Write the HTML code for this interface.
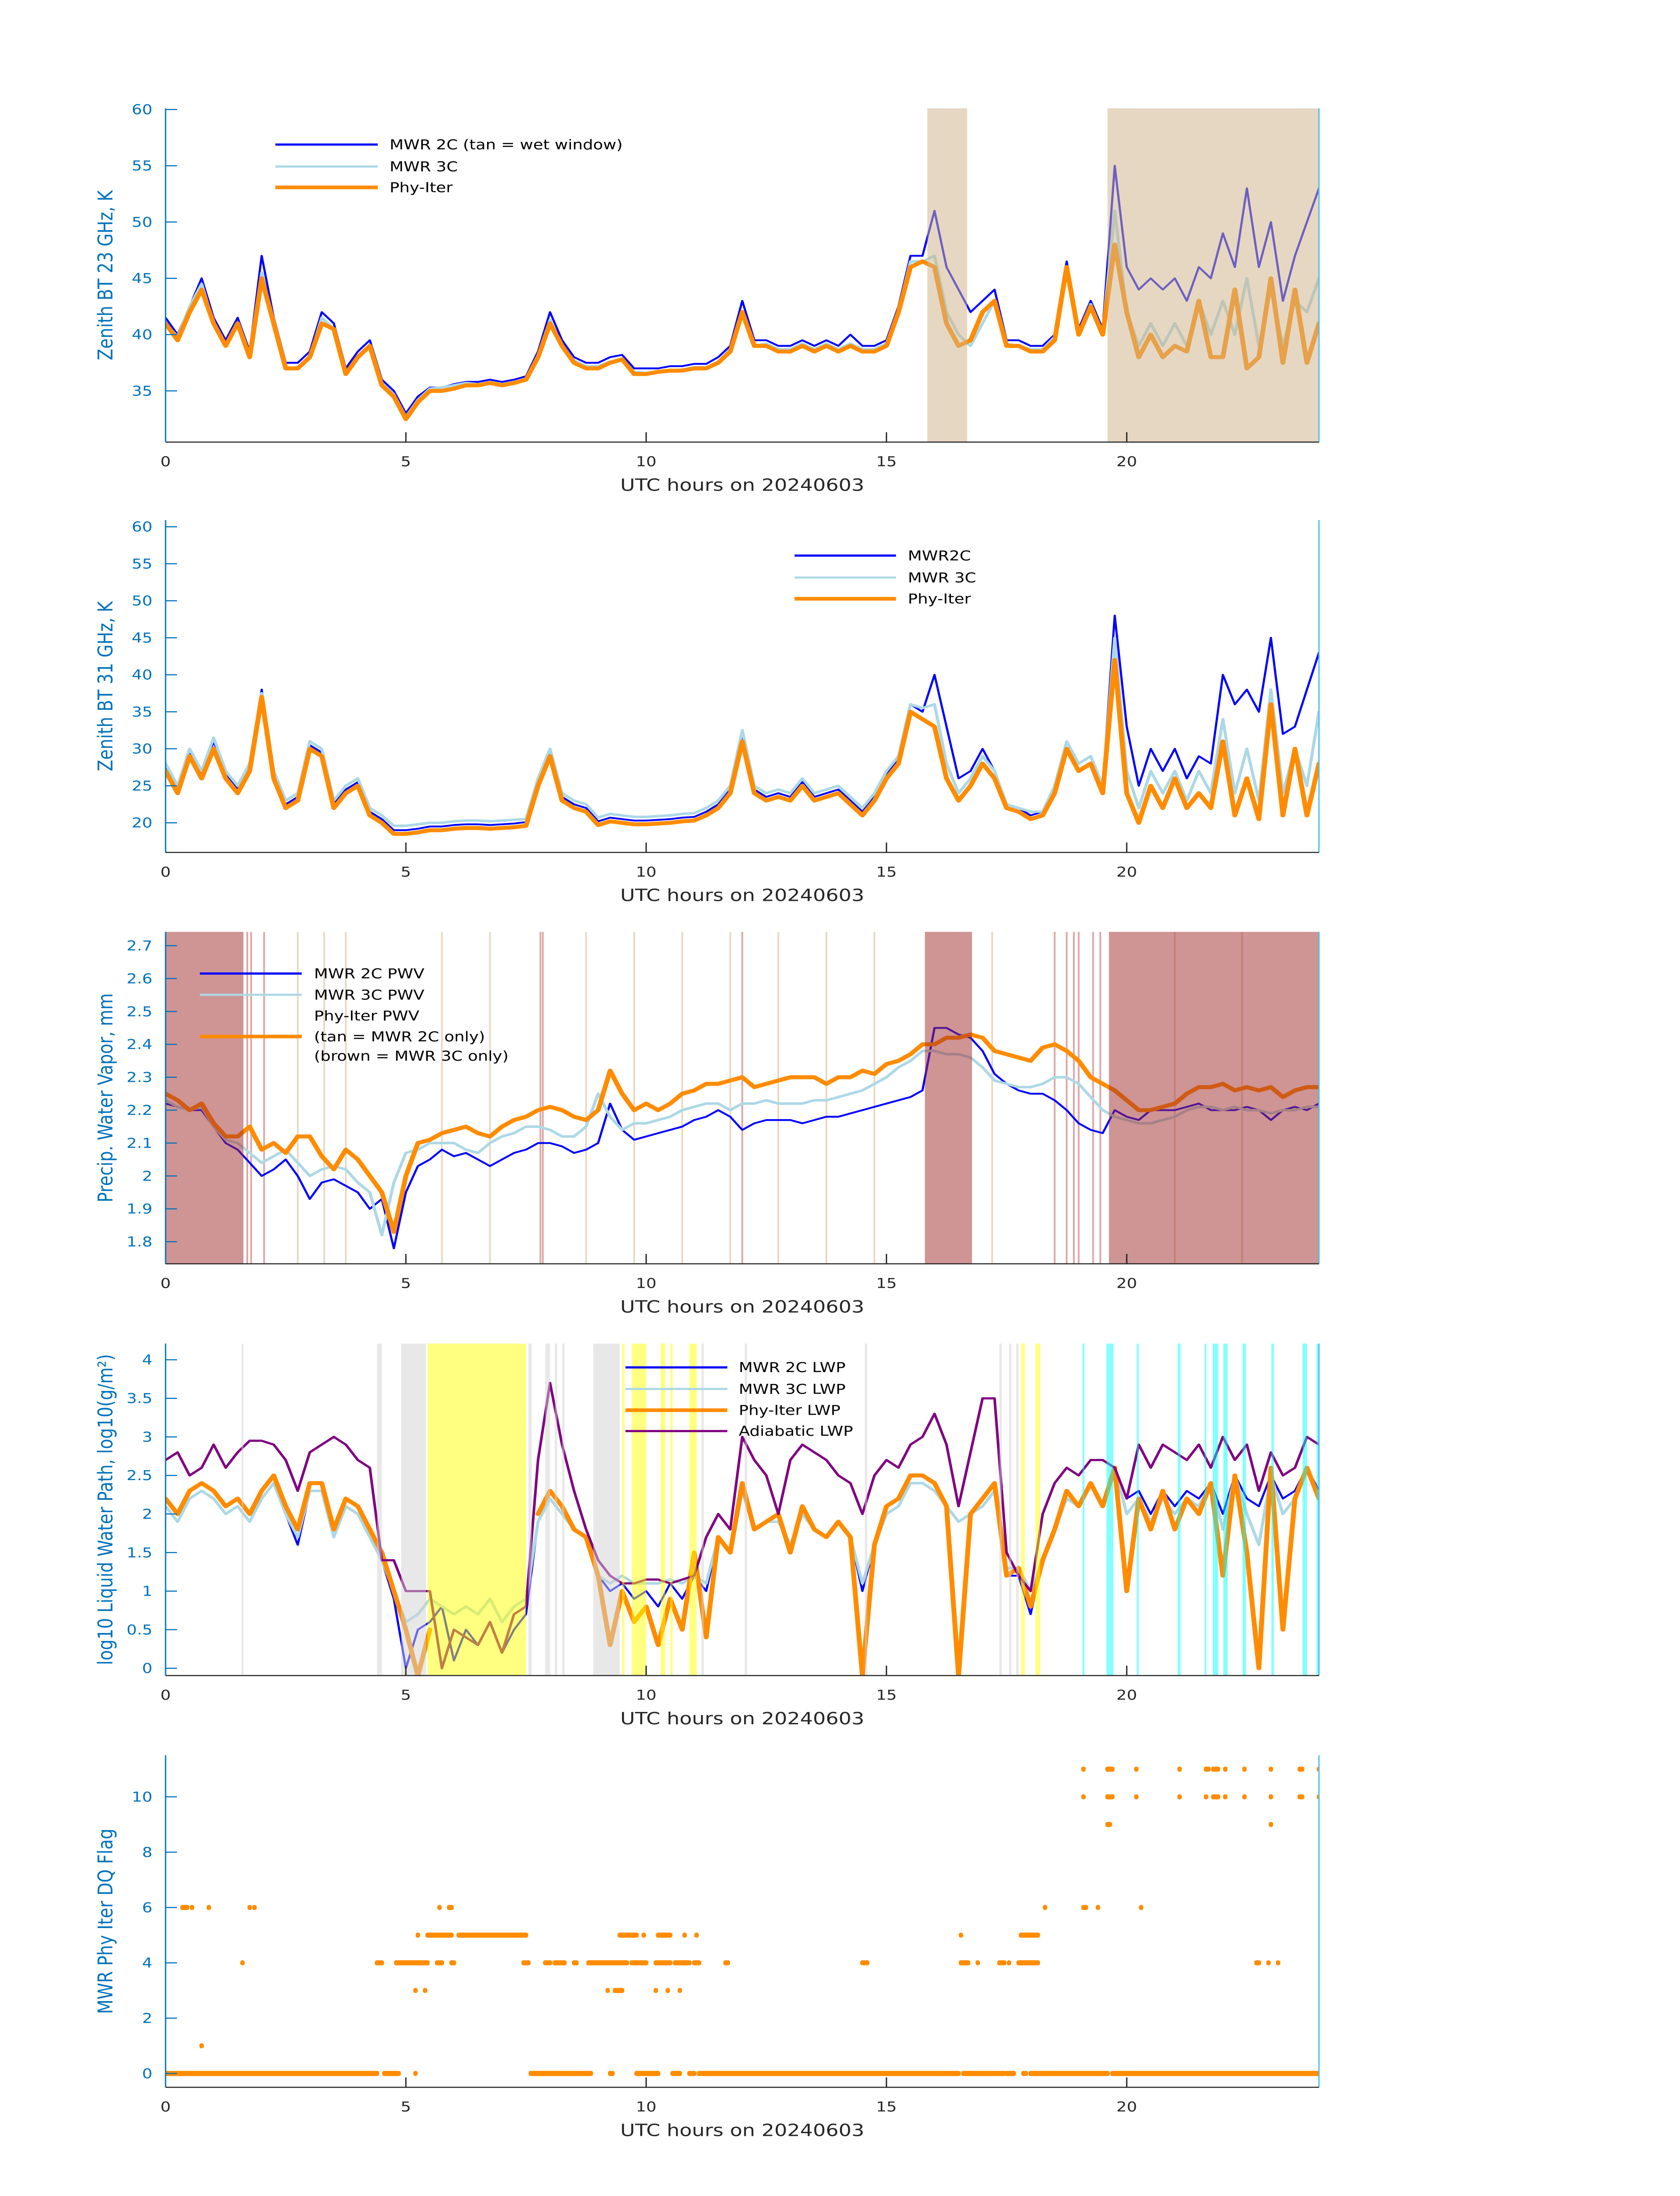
<!DOCTYPE html>
<html><head><meta charset="utf-8">
<style>
html,body{margin:0;padding:0;background:#fff;width:100vw;height:100vh;overflow:hidden;}
svg{display:block;position:absolute;left:0;top:0;width:100vw;height:100vh;overflow:hidden;}
text{font-family:"DejaVu Sans","Liberation Sans",sans-serif;}
</style></head>
<body>
<svg id="fig" viewBox="0 0 3825 6000" preserveAspectRatio="none" xmlns="http://www.w3.org/2000/svg"></svg>
<script>
// ---------- DATA (sampled every 0.25 h, 0..24) ----------
const p1Blue=[41.5,40,42.5,45,41.5,39.5,41.5,38.5,47,41.5,37.5,37.5,38.5,42,41,37,38.5,39.5,36,35,33,34.5,35.3,35.3,35.6,35.8,35.8,36,35.8,36,36.3,38.5,42,39.5,38,37.5,37.5,38,38.2,37,37,37,37.2,37.2,37.4,37.4,38,39,43,39.5,39.5,39,39,39.5,39,39.5,39,40,39,39,39.5,42.5,47,47,51,46,44,42,43,44,39.5,39.5,39,39,40,46.5,40.5,43,40.5,55,46,44,45,44,45,43,46,45,49,46,53,46,50,43,47,50,53];
const p1Light=[41,39.8,42.5,44.5,41,39,41,38,45.5,41,37,37,38,41.5,40.5,36.5,38,39,35.7,34.7,32.7,34.2,35.2,35.3,35.5,35.7,35.6,35.8,35.6,35.8,36,38.2,41.3,39,37.7,37.2,37.2,37.6,37.8,36.7,36.6,36.7,36.8,36.9,37.1,37.1,37.6,38.7,42,39,39.2,38.7,38.7,39.2,38.7,39.2,38.7,39.2,38.7,38.7,39.2,42.2,46.5,46.5,47,42,40,39,41,43,39.2,39,38.7,38.7,39.8,46,40,42.7,40.2,51,42,39,41,39,41,39,43,40,43,40,45,39,44,39,43,42,45];
const p1Orange=[41,39.5,42,44,41,39,41,38,45,41,37,37,38,41,40.5,36.5,38,39,35.5,34.5,32.5,34,35,35,35.2,35.5,35.5,35.7,35.5,35.7,36,38,41,39,37.5,37,37,37.5,37.8,36.5,36.5,36.7,36.8,36.8,37,37,37.5,38.5,42,39,39,38.5,38.5,39,38.5,39,38.5,39,38.5,38.5,39,42,46,46.5,46,41,39,39.5,42,43,39,39,38.5,38.5,39.5,46,40,42.5,40,48,42,38,40,38,39,38.5,43,38,38,44,37,38,45,37.5,44,37.5,41];

const p2Blue=[27.5,24.5,29.5,26.5,31,26.5,24.5,27.5,38,26.5,22.5,23.5,30.5,29.5,22.5,24.5,25.5,21.5,20.5,19,19,19.2,19.5,19.5,19.7,19.8,19.8,19.7,19.8,19.9,20.1,25.5,29.5,23.5,22.5,22,20.2,20.7,20.5,20.3,20.3,20.4,20.5,20.7,20.8,21.5,22.5,24.5,32,24.5,23.5,24,23.5,25.5,23.5,24,24.5,23,21.5,23.5,26.5,28.5,36,35,40,33,26,27,30,27,22.5,22,21,21.5,25,31,28,29,25,48,33,25,30,27,30,26,29,28,40,36,38,35,45,32,33,38,43];
const p2Light=[28,25,30,27,31.5,27,25,28,37.5,27,23,24,31,30,23,25,26,22,21,19.6,19.6,19.8,20,20,20.2,20.3,20.3,20.2,20.3,20.4,20.5,26,30,24,23,22.5,20.7,21.2,21,20.8,20.8,20.9,21,21.2,21.3,22,23,25,32.5,25,24,24.5,24,26,24,24.5,25,23.5,22,24,27,29,36,35.5,36,28,24,26,29,27,22.5,22,21.5,21.5,25,31,28,29,25,45,27,22,27,24,27,23,27,24,34,24,30,23,38,24,30,25,35];
const p2Orange=[27,24,29,26,30,26,24,27,37,26,22,23,30,29,22,24,25,21,20,18.5,18.5,18.7,19,19,19.2,19.3,19.3,19.2,19.3,19.4,19.6,25,29,23,22,21.5,19.7,20.2,20,19.8,19.8,19.9,20,20.2,20.3,21,22,24,31,24,23,23.5,23,25,23,23.5,24,22.5,21,23,26,28,35,34,33,26,23,25,28,26,22,21.5,20.5,21,24,30,27,28,24,42,24,20,25,22,26,22,24,22,31,21,26,20.5,36,21,30,21,28];

const p3Blue=[2.22,2.21,2.2,2.2,2.15,2.1,2.08,2.04,2.0,2.02,2.05,2.0,1.93,1.98,1.99,1.97,1.95,1.9,1.93,1.78,1.95,2.03,2.05,2.08,2.06,2.07,2.05,2.03,2.05,2.07,2.08,2.1,2.1,2.09,2.07,2.08,2.1,2.22,2.14,2.11,2.12,2.13,2.14,2.15,2.17,2.18,2.2,2.18,2.14,2.16,2.17,2.17,2.17,2.16,2.17,2.18,2.18,2.19,2.2,2.21,2.22,2.23,2.24,2.26,2.45,2.45,2.43,2.42,2.38,2.31,2.28,2.26,2.25,2.25,2.23,2.2,2.16,2.14,2.13,2.2,2.18,2.17,2.2,2.2,2.2,2.21,2.22,2.2,2.2,2.2,2.21,2.2,2.17,2.2,2.21,2.2,2.22];
const p3Light=[2.23,2.21,2.2,2.21,2.15,2.11,2.1,2.07,2.04,2.06,2.08,2.04,2.0,2.02,2.03,2.02,1.98,1.95,1.82,1.98,2.07,2.08,2.1,2.1,2.1,2.08,2.07,2.1,2.12,2.13,2.15,2.15,2.14,2.12,2.12,2.15,2.25,2.18,2.14,2.16,2.16,2.17,2.18,2.2,2.21,2.22,2.22,2.2,2.22,2.22,2.23,2.22,2.22,2.22,2.23,2.23,2.24,2.25,2.26,2.28,2.3,2.33,2.35,2.38,2.38,2.37,2.37,2.36,2.33,2.29,2.28,2.27,2.27,2.28,2.3,2.3,2.28,2.24,2.2,2.18,2.17,2.16,2.16,2.17,2.18,2.2,2.21,2.21,2.2,2.21,2.2,2.2,2.19,2.2,2.2,2.21,2.21];
const p3Orange=[2.25,2.23,2.2,2.22,2.16,2.12,2.12,2.15,2.08,2.1,2.07,2.12,2.12,2.06,2.02,2.08,2.05,2.0,1.95,1.83,2.0,2.1,2.11,2.13,2.14,2.15,2.13,2.12,2.15,2.17,2.18,2.2,2.21,2.2,2.18,2.17,2.2,2.32,2.25,2.2,2.22,2.2,2.22,2.25,2.26,2.28,2.28,2.29,2.3,2.27,2.28,2.29,2.3,2.3,2.3,2.28,2.3,2.3,2.32,2.31,2.34,2.35,2.37,2.4,2.4,2.42,2.42,2.43,2.42,2.38,2.37,2.36,2.35,2.39,2.4,2.38,2.35,2.3,2.28,2.26,2.23,2.2,2.2,2.21,2.22,2.25,2.27,2.27,2.28,2.26,2.27,2.26,2.27,2.24,2.26,2.27,2.27];

const p4Blue=[2.1,1.9,2.2,2.3,2.2,2.0,2.1,1.9,2.2,2.4,2.0,1.6,2.3,2.3,1.7,2.1,2.0,1.7,1.4,0.9,0.0,0.5,0.6,0.8,0.1,0.5,0.3,0.6,0.2,0.5,0.7,1.9,2.2,2.0,1.8,1.7,1.2,1.0,1.1,0.9,1.0,0.8,1.1,0.9,1.2,1.0,1.7,1.5,2.3,1.8,1.9,1.9,1.6,2.0,1.8,1.7,1.9,1.7,1.0,1.6,2.0,2.1,2.4,2.4,2.3,2.1,1.9,2.0,2.1,2.3,1.2,1.2,0.7,1.4,1.8,2.2,2.1,2.4,2.1,2.6,2.2,2.3,2.0,2.3,2.1,2.3,2.2,2.4,2.0,2.5,2.2,2.1,2.5,2.2,2.3,2.6,2.3];
const p4Light=[2.1,1.9,2.2,2.3,2.2,2.0,2.1,1.9,2.2,2.4,2.0,1.7,2.3,2.3,1.7,2.1,2.0,1.7,1.4,1.0,0.6,0.7,0.9,0.8,0.7,0.8,0.7,0.9,0.6,0.8,0.9,1.9,2.2,2.0,1.8,1.7,1.2,1.1,1.2,1.1,1.1,1.1,1.15,1.1,1.2,1.1,1.7,1.5,2.3,1.8,1.9,1.9,1.6,2.0,1.8,1.7,1.9,1.7,1.1,1.6,2.0,2.1,2.4,2.4,2.3,2.1,1.9,2.0,2.1,2.3,1.3,1.3,1.0,1.4,1.8,2.2,2.1,2.4,2.1,2.6,2.0,2.2,1.9,2.2,2.0,2.2,2.1,2.4,1.8,2.5,2.0,1.6,2.5,2.0,2.2,2.6,2.2];
const p4Orange=[2.2,2.0,2.3,2.4,2.3,2.1,2.2,2.0,2.3,2.5,2.1,1.8,2.4,2.4,1.8,2.2,2.1,1.8,1.5,1.0,0.5,-0.1,0.5,null,null,null,null,null,null,null,null,2.0,2.3,2.1,1.8,1.7,1.2,0.3,1.0,0.6,0.8,0.3,0.9,0.5,1.5,0.4,1.7,1.5,2.4,1.8,1.9,2.0,1.5,2.1,1.8,1.7,1.9,1.7,-0.1,1.6,2.1,2.2,2.5,2.5,2.4,2.1,-0.1,2.0,2.2,2.4,1.2,1.3,0.8,1.4,1.8,2.3,2.1,2.4,2.1,2.6,1.0,2.2,1.8,2.3,1.8,2.2,2.0,2.4,1.2,2.5,1.5,0.0,2.6,0.5,2.2,2.6,2.2];
const p4Adiabatic=[2.7,2.8,2.5,2.6,2.9,2.6,2.8,2.95,2.95,2.9,2.7,2.3,2.8,2.9,3.0,2.9,2.7,2.6,1.4,1.4,1.0,1.0,1.0,0.0,0.5,0.4,0.3,0.6,0.2,0.7,0.8,2.7,3.7,2.9,2.3,1.8,1.4,1.2,1.1,1.1,1.15,1.15,1.1,1.15,1.2,1.7,2.0,1.8,3.0,2.7,2.5,2.0,2.7,2.9,2.8,2.7,2.5,2.4,2.0,2.5,2.7,2.6,2.9,3.0,3.3,2.9,2.1,2.8,3.5,3.5,1.5,1.2,1.0,2.0,2.4,2.6,2.5,2.7,2.7,2.6,2.2,2.9,2.6,2.9,2.8,2.7,2.9,2.6,3.0,2.7,2.9,2.3,2.8,2.5,2.6,3.0,2.9];

// DQ flag segments [startHour, endHour]
const flag0=[[0,4.4],[4.55,4.85],[5.2,5.2],[7.6,8.85],[9.25,9.3],[9.8,10.25],[10.55,10.7],[10.9,11.0],[11.1,16.5],[16.6,17.45],[17.5,17.65],[17.85,17.9],[18.0,19.6],[19.7,24]];
const flag1=[[0.75,0.75]];
const flag3=[[5.2,5.2],[5.4,5.4],[9.2,9.2],[9.35,9.5],[10.2,10.2],[10.45,10.45],[10.7,10.7]];
const flag4=[[1.6,1.6],[4.4,4.5],[4.8,5.45],[5.65,5.75],[5.95,6.0],[7.45,7.55],[7.9,8.0],[8.1,8.3],[8.5,8.55],[8.8,9.6],[9.7,10.0],[10.2,10.5],[10.6,10.9],[11.0,11.1],[11.65,11.7],[14.5,14.6],[16.55,16.7],[16.9,16.9],[17.35,17.45],[17.55,17.55],[17.75,18.15],[22.7,22.75],[22.95,22.95],[23.15,23.15]];
const flag5=[[5.25,5.25],[5.45,5.95],[6.1,7.5],[9.45,9.8],[9.95,9.95],[10.25,10.5],[10.8,10.8],[11.05,11.05],[16.55,16.55],[17.8,18.15]];
const flag6=[[0.35,0.45],[0.55,0.55],[0.9,0.9],[1.75,1.75],[1.85,1.85],[5.7,5.7],[5.9,5.95],[18.3,18.3],[19.1,19.15],[19.4,19.4],[20.3,20.3]];
const flag9=[[19.6,19.65],[23.0,23.0]];
const flag10=[[19.1,19.1],[19.6,19.7],[20.2,20.2],[21.1,21.1],[21.65,21.65],[21.8,21.9],[22.05,22.05],[22.45,22.45],[23.0,23.0],[23.6,23.65],[24,24]];
const flag11=[[19.1,19.1],[19.6,19.7],[20.2,20.2],[21.1,21.1],[21.65,21.7],[21.8,21.9],[22.05,22.05],[22.45,22.45],[23.0,23.0],[23.6,23.65],[24,24]];

// shading (hours)
const p1Wet=[[15.85,16.68],[19.6,24]];
const p3Brown=[[0,1.62],[15.8,16.78],[19.63,24]];
const p3TanLines=[2.75,3.3,3.75,5.75,6.75,8.75,9.75,10.75,11.75,12.75,13.75,14.75,17.2,21.0,22.4];
const p3RedLines=[1.7,1.78,2.05,7.8,7.85,12.0,18.5,18.75,18.9,19.0,19.3,19.45];
const p4Grey=[[1.58,1.62],[4.4,4.5],[4.9,5.42],[7.55,7.62],[7.9,8.0],[8.1,8.15],[8.25,8.3],[8.9,9.45],[11.15,11.2],[12.05,12.1],[14.55,14.6],[17.35,17.4],[17.55,17.6],[17.7,17.75]];
const p4Yellow=[[5.45,7.5],[9.5,9.55],[9.7,10.0],[10.3,10.4],[10.5,10.55],[10.9,11.05],[17.8,17.88],[18.1,18.2]];
const p4Cyan=[[19.08,19.12],[19.58,19.72],[20.21,20.25],[21.06,21.12],[21.62,21.65],[21.79,21.9],[22.01,22.1],[22.41,22.48],[23.01,23.06],[23.66,23.75],[23.95,24]];

// ---------- RENDER ----------
const NS="http://www.w3.org/2000/svg";
const svg=document.getElementById('fig');
const X0=377,X1=3003;
function xs(h){return X0+(X1-X0)*h/24;}
function mk(tag,attrs,parent){const e=document.createElementNS(NS,tag);for(const k in attrs)e.setAttribute(k,attrs[k]);(parent||svg).appendChild(e);return e;}

function makePanel(id,top,bot,ymin,ymax,ticks,tickFmt,ylabel){
  const g=mk('g',{});
  
  
  const cp=mk('clipPath',{id:'clip-'+id},g);
  mk('rect',{x:X0,y:top,width:X1-X0,height:bot-top},cp);
  const ys=v=>bot-(bot-top)*(v-ymin)/(ymax-ymin);
  const plot=mk('g',{'clip-path':'url(#clip-'+id+')'},g);
  
  
  return {g,plot,ys,top,bot,ticks,tickFmt,ylabel};
}
function finishPanel(P){
  const g=P.g;
  const ax=mk('g',{},g);
  
  
  mk('line',{x1:X0,y1:P.top,x2:X0,y2:P.bot,stroke:'#0072BD','stroke-width':3},ax);
  mk('line',{x1:X1,y1:P.top,x2:X1,y2:P.bot,stroke:'#4DBEEE','stroke-width':3},ax);
  P.ticks.forEach(v=>{
    const y=P.ys(v);
    mk('line',{x1:X0,y1:y,x2:X0+26,y2:y,stroke:'#0072BD','stroke-width':3},ax);
    const t=mk('text',{x:X0-30,y:y+13,'text-anchor':'end','font-size':37,fill:'#0072BD'},ax);
    t.textContent=P.tickFmt(v);
    
    
  });
  const yl=mk('text',{x:0,y:0,'text-anchor':'middle','font-size':46,fill:'#0072BD',transform:'translate(256,'+((P.top+P.bot)/2)+') rotate(-90)'},g);
  yl.textContent=P.ylabel;
  
  
  const xa=mk('g',{},g);
  
  
  mk('line',{x1:X0,y1:P.bot,x2:X1,y2:P.bot,stroke:'#262626','stroke-width':3},xa);
  [0,5,10,15,20].forEach(h=>{
    if(h>0) mk('line',{x1:xs(h),y1:P.bot,x2:xs(h),y2:P.bot-27,stroke:'#262626','stroke-width':3},xa);
    const t=mk('text',{x:xs(h),y:P.bot+66,'text-anchor':'middle','font-size':37,fill:'#262626'},xa);
    t.textContent=String(h);
    
    
  });
  const xl=mk('text',{x:(X0+X1)/2,y:P.bot+133,'text-anchor':'middle','font-size':46,fill:'#262626'},g);
  xl.textContent='UTC hours on 20240603';
  
  
}
function series(P,arr,color,w,name,op){
  const n=arr.length;let d='';let pen=false;
  for(let i=0;i<n;i++){
    const v=arr[i];
    if(v===null){pen=false;continue;}
    const x=xs(24*i/(n-1)),y=P.ys(v);
    d+=(pen?'L':'M')+x.toFixed(1)+' '+y.toFixed(1);pen=true;
  }
  const p=mk('path',{d:d,fill:'none',stroke:color,'stroke-width':w,'stroke-linejoin':'round','stroke-linecap':'round',opacity:op||1},P.plot);
  
  
}
function bands(P,list,color,op,name){
  list.forEach(b=>{
    const r=mk('rect',{x:xs(b[0]),y:P.top,width:Math.max(4,xs(b[1])-xs(b[0])),height:P.bot-P.top,fill:color,'fill-opacity':op},P.plot);
    
    
  });
}
function vlines(P,list,color,name){
  list.forEach(h=>{
    const l=mk('line',{x1:xs(h),y1:P.top,x2:xs(h),y2:P.bot,stroke:color,'stroke-width':4},P.plot);
    
    
  });
}
function legend(P,x1,x2,tx,items){
  const lg=mk('g',{},P.g);
  
  
  items.forEach(it=>{
    if(it.c) mk('line',{x1:x1,y1:it.y,x2:x2,y2:it.y,stroke:it.c,'stroke-width':it.w},lg);
    const t=mk('text',{x:tx,y:it.y+13,'font-size':37,fill:'#000'},lg);
    t.textContent=it.t;
    
    
  });
}
const BLUE='#0000FF',LB='#ADD8E6',OR='#FF8C00',PU='#800080';

// Panel 1
const P1=makePanel('panel-bt23',296,1208,30.45,60.1,[35,40,45,50,55,60],v=>String(v),'Zenith BT 23 GHz, K');
series(P1,p1Blue,BLUE,5,'series-mwr2c');
series(P1,p1Light,LB,7,'series-mwr3c');
series(P1,p1Orange,OR,11,'series-phy-iter');
bands(P1,p1Wet,'#D0B38C',0.53,'wet-window-band');
finishPanel(P1);
legend(P1,627,860,887,[{y:395,c:BLUE,w:6,t:'MWR 2C (tan = wet window)'},{y:455,c:LB,w:6,t:'MWR 3C'},{y:512,c:OR,w:10,t:'Phy-Iter'}]);

// Panel 2
const P2=makePanel('panel-bt31',1421,2329,16.0,60.9,[20,25,30,35,40,45,50,55,60],v=>String(v),'Zenith BT 31 GHz, K');
series(P2,p2Blue,BLUE,5,'series-mwr2c');
series(P2,p2Light,LB,7,'series-mwr3c');
series(P2,p2Orange,OR,11,'series-phy-iter');
finishPanel(P2);
legend(P2,1809,2040,2067,[{y:1518,c:BLUE,w:6,t:'MWR2C'},{y:1578,c:LB,w:6,t:'MWR 3C'},{y:1636,c:OR,w:10,t:'Phy-Iter'}]);

// Panel 3
const P3=makePanel('panel-pwv',2546,3453,1.733,2.742,[1.8,1.9,2,2.1,2.2,2.3,2.4,2.5,2.6,2.7],v=>String(Math.round(v*10)/10),'Precip. Water Vapor, mm');
vlines(P3,p3TanLines,'#E8D8C4','tan-flag-line');
vlines(P3,p3RedLines,'#DDA8A8','brown-flag-line');
series(P3,p3Blue,BLUE,5,'series-mwr2c-pwv');
series(P3,p3Light,LB,7,'series-mwr3c-pwv');
series(P3,p3Orange,OR,11,'series-phy-iter-pwv');
bands(P3,p3Brown,'#9F2929',0.5,'mwr3c-only-band');
finishPanel(P3);
legend(P3,455,687,715,[{y:2660,c:BLUE,w:6,t:'MWR 2C PWV'},{y:2718,c:LB,w:6,t:'MWR 3C PWV'},{y:2775,t:'Phy-Iter PWV'},{y:2832,c:OR,w:10,t:'(tan = MWR 2C only)'},{y:2885,t:'(brown = MWR 3C only)'}]);

// Panel 4
const P4=makePanel('panel-lwp',3671,4578,-0.095,4.21,[0,0.5,1,1.5,2,2.5,3,3.5,4],v=>String(v),'log10 Liquid Water Path, log10(g/m²)');
series(P4,p4Blue,BLUE,5,'series-mwr2c-lwp');
series(P4,p4Light,LB,7,'series-mwr3c-lwp');
series(P4,p4Orange,OR,11,'series-phy-iter-lwp');
series(P4,p4Adiabatic,PU,6,'series-adiabatic-lwp');
bands(P4,p4Grey,'#D1D1D1',0.5,'grey-flag-band');
bands(P4,p4Yellow,'#FFFF01',0.5,'yellow-flag-band');
bands(P4,p4Cyan,'#01FFFF',0.5,'cyan-flag-band');
finishPanel(P4);
legend(P4,1424,1656,1682,[{y:3736,c:BLUE,w:6,t:'MWR 2C LWP'},{y:3795,c:LB,w:6,t:'MWR 3C LWP'},{y:3853,c:OR,w:10,t:'Phy-Iter LWP'},{y:3910,c:PU,w:6,t:'Adiabatic LWP'}]);

// Panel 5
const P5=makePanel('panel-dq-flag',4796,5703,-0.5,11.5,[0,2,4,6,8,10],v=>String(v),'MWR Phy Iter DQ Flag');
[[0,flag0],[1,flag1],[3,flag3],[4,flag4],[5,flag5],[6,flag6],[9,flag9],[10,flag10],[11,flag11]].forEach(pair=>{
  const lvl=pair[0];
  pair[1].forEach(s=>{
    const x0=xs(s[0])-5,x1=xs(s[1])+5,y=P5.ys(lvl);
    const r=mk('rect',{x:x0,y:y-7,width:x1-x0,height:14,rx:5,fill:OR},P5.plot);
    
    
  });
});
finishPanel(P5);
</script>
</body></html>
